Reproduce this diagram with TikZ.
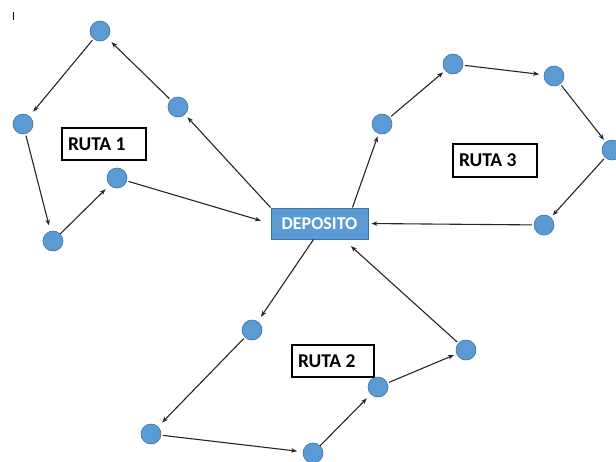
\documentclass[tikz,border=0pt]{standalone}
\usepackage{fontspec}
\setmainfont{Carlito}
\usetikzlibrary{arrows.meta}
\definecolor{nodeblue}{HTML}{5B9BD5}
\definecolor{nodeedge}{HTML}{41719C}
\definecolor{arrowgray}{HTML}{262626}
\tikzset{
  stop/.style={circle, fill=nodeblue, draw=nodeedge, line width=0.6pt, minimum size=20pt, inner sep=0pt, outer sep=0pt},
  depot/.style={rectangle, fill=nodeblue, draw=nodeedge, line width=0.9pt, minimum width=97pt, minimum height=31pt, inner sep=0pt, text=white, font=\bfseries\fontsize{18}{21}\selectfont},
  routelabel/.style={rectangle, draw=black, line width=1.1pt, fill=white, minimum height=32pt, inner ysep=0pt, inner xsep=6pt, font=\bfseries\fontsize{19.5}{23}\selectfont},
  arr/.style={draw=arrowgray, line width=1.1pt, -{Stealth[length=6pt,width=4.5pt]}, shorten >=6pt, shorten <=2pt}
}
\begin{document}
\begin{tikzpicture}[x=1pt,y=-1pt]
\clip (0,0) rectangle (616,461);
\fill[white] (0,0) rectangle (616,461);
\draw[line width=0.8pt, black] (13,12) -- (13,20);

\node[depot] (dep) at (319.5,223.5) {DEPOSITO};

\node[routelabel] (r1) at (104,144) {\makebox[72pt][l]{RUTA 1}};
\node[routelabel] (r2) at (333,361) {\makebox[70pt][l]{RUTA 2}};
\node[routelabel, minimum height=33pt] (r3) at (495,160.5) {\makebox[72pt][l]{RUTA 3}};

% Route 1
\node[stop] (A1) at (100,31) {};
\node[stop] (A2) at (23,124) {};
\node[stop] (A3) at (53,241) {};
\node[stop] (A4) at (117,178) {};
\node[stop] (A5) at (178,107) {};
% Route 3
\node[stop] (B1) at (382,124) {};
\node[stop] (B2) at (453,64) {};
\node[stop] (B3) at (554,76) {};
\node[stop] (B4) at (612,150) {};
\node[stop] (B5) at (544,225) {};
% Route 2
\node[stop] (C1) at (252,330) {};
\node[stop] (C2) at (151,434) {};
\node[stop] (C3) at (313,453) {};
\node[stop] (C4) at (378,387) {};
\node[stop] (C5) at (466,350) {};

% Route 1 arrows
\draw[arr, shorten <=0pt, shorten >=4pt] (dep.north west) -- (A5);
\draw[arr] (A5) -- (A1);
\draw[arr] (A1) -- (A2);
\draw[arr] (A2) -- (A3);
\draw[arr, shorten <=0pt] (A3) -- (A4);
\draw[arr, shorten >=10pt] (A4) -- (dep.west);

% Route 3 arrows
\draw[arr, shorten <=0pt, shorten >=3pt] ([xshift=-16pt]dep.north east) -- (B1);
\draw[arr, shorten >=3pt] (B1) -- (B2);
\draw[arr, shorten >=5pt] (B2) -- (B3);
\draw[arr, shorten >=3pt] (B3) -- (B4);
\draw[arr, shorten >=3pt] (B4) -- (B5);
\draw[arr, shorten >=3pt] (B5) -- (dep.east);

% Route 2 arrows
\draw[arr, shorten <=0pt] ([xshift=-6pt]dep.south) -- (C1);
\draw[arr] (C1) -- (C2);
\draw[arr] (C2) -- (C3);
\draw[arr, shorten <=0pt] (C3) -- (C4);
\draw[arr, shorten >=3pt] (C4) -- (C5);
\draw[arr, shorten >=10pt] (C5) -- ([xshift=24pt]dep.south);
\end{tikzpicture}
\end{document}
